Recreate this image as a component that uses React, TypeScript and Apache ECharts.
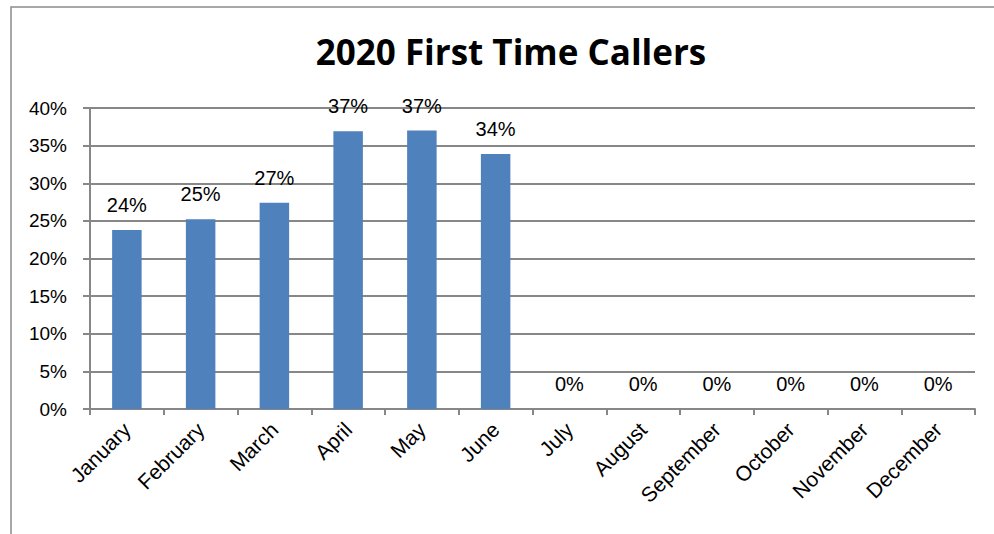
import React, { useEffect, useRef } from "react";
import * as echarts from "echarts";

const categories = ["January", "February", "March", "April", "May", "June", "July", "August", "September", "October", "November", "December"];
const values = [0.238, 0.252, 0.274, 0.369, 0.37, 0.339, 0, 0, 0, 0, 0, 0];
const titleText = "2020 First Time Callers";

export default function App() {
  const ref = useRef<HTMLDivElement>(null);
  useEffect(() => {
    if (!ref.current) return;
    const chart = echarts.init(ref.current, null, { renderer: "svg" });
    const font = "'Liberation Sans', Arial, sans-serif";
    chart.setOption({
      animation: false,
      textStyle: { fontFamily: font },
      title: {
        text: titleText,
        left: 506,
        textAlign: "center",
        top: 29,
        textStyle: { fontSize: 35, fontWeight: "bold", color: "#000", fontFamily: "'Open Sans', " + font },
      },
      graphic: [
        {
          type: "rect",
          shape: { x: 11, y: 7, width: 1100, height: 700 },
          style: { fill: "none", stroke: "#8c8c8c", lineWidth: 1.5 },
          silent: true,
        },
      ],
      grid: { left: 90, right: 19, top: 108, bottom: 125 },
      xAxis: {
        type: "category",
        data: categories,
        axisLine: { lineStyle: { color: "#878787", width: 2 } },
        axisTick: { show: true, length: 6, alignWithLabel: false, lineStyle: { color: "#878787", width: 2 } },
        axisLabel: { rotate: 45, fontSize: 21, color: "#000", margin: 17, interval: 0, fontFamily: font },
      },
      yAxis: {
        type: "value",
        min: 0,
        max: 0.4,
        interval: 0.05,
        axisLine: { show: true, lineStyle: { color: "#878787", width: 2 } },
        axisTick: { show: true, length: 7, lineStyle: { color: "#878787", width: 2 } },
        splitLine: { show: true, lineStyle: { color: "#878787", width: 2 } },
        axisLabel: {
          fontSize: 19,
          color: "#000",
          margin: 23,
          fontFamily: font,
          formatter: (v: number) => Math.round(v * 100) + "%",
        },
      },
      series: [
        {
          type: "bar",
          data: values,
          barWidth: "40%",
          itemStyle: { color: "#4F81BD" },
          label: {
            show: true,
            position: "top",
            distance: 15,
            fontSize: 20,
            color: "#000",
            fontFamily: font,
            formatter: (p: any) => Math.round(p.value * 100) + "%",
          },
        },
      ],
    });
    return () => chart.dispose();
  }, []);
  return <div ref={ref} style={{ position: "fixed", left: 0, top: 0, width: 994, height: 534, background: "#fff" }} />;
}
